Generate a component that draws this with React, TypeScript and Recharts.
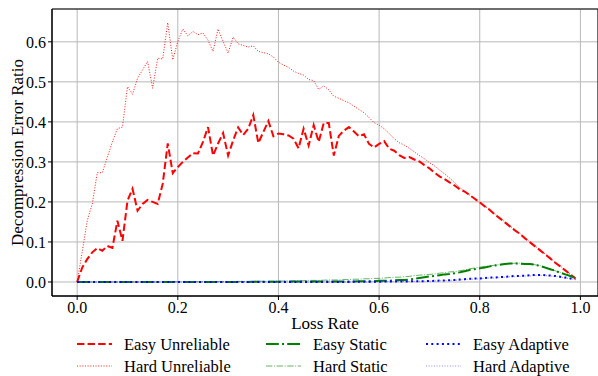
import { CartesianGrid, Line, LineChart, ReferenceArea, XAxis, YAxis } from "recharts";

const lossRate = [
  0.0, 0.01, 0.02, 0.03, 0.04, 0.05, 0.06, 0.07, 0.08, 0.09,
  0.1, 0.11, 0.12, 0.13, 0.14, 0.15, 0.16, 0.17, 0.18, 0.19,
  0.2, 0.21, 0.22, 0.23, 0.24, 0.25, 0.26, 0.27, 0.28, 0.29,
  0.3, 0.31, 0.32, 0.33, 0.34, 0.35, 0.36, 0.37, 0.38, 0.39,
  0.4, 0.41, 0.42, 0.43, 0.44, 0.45, 0.46, 0.47, 0.48, 0.49,
  0.5, 0.51, 0.52, 0.53, 0.54, 0.55, 0.56, 0.57, 0.58, 0.59,
  0.6, 0.61, 0.62, 0.63, 0.64, 0.65, 0.66, 0.67, 0.68, 0.69,
  0.7, 0.71, 0.72, 0.73, 0.74, 0.75, 0.76, 0.77, 0.78, 0.79,
  0.8, 0.81, 0.82, 0.83, 0.84, 0.85, 0.86, 0.87, 0.88, 0.89,
  0.9, 0.91, 0.92, 0.93, 0.94, 0.95, 0.96, 0.97, 0.98, 0.99,
];

const easyUnreliable = [
  0, 0.036, 0.057, 0.074, 0.085, 0.078, 0.09, 0.085, 0.153, 0.103,
  0.203, 0.233, 0.178, 0.195, 0.205, 0.2, 0.195, 0.245, 0.346, 0.272,
  0.287, 0.3, 0.311, 0.322, 0.321, 0.35, 0.387, 0.316, 0.346, 0.372,
  0.316, 0.354, 0.386, 0.367, 0.383, 0.417, 0.347, 0.375, 0.402, 0.364,
  0.371, 0.369, 0.366, 0.358, 0.334, 0.383, 0.341, 0.392, 0.35, 0.397,
  0.397, 0.316, 0.365, 0.378, 0.387, 0.376, 0.364, 0.369, 0.345, 0.336,
  0.345, 0.352, 0.333, 0.328, 0.317, 0.31, 0.312, 0.306, 0.301, 0.292,
  0.284, 0.273, 0.264, 0.257, 0.249, 0.241, 0.232, 0.226, 0.217, 0.208,
  0.199, 0.189, 0.18, 0.169, 0.159, 0.149, 0.139, 0.129, 0.12, 0.109,
  0.099, 0.089, 0.079, 0.069, 0.059, 0.048, 0.039, 0.029, 0.019, 0.009,
];

const hardUnreliable = [
  0, 0.075, 0.153, 0.195, 0.273, 0.273, 0.312, 0.35, 0.383, 0.387,
  0.488, 0.469, 0.509, 0.53, 0.551, 0.484, 0.559, 0.557, 0.648, 0.555,
  0.601, 0.632, 0.615, 0.626, 0.618, 0.622, 0.604, 0.576, 0.632, 0.601,
  0.572, 0.612, 0.595, 0.591, 0.587, 0.59, 0.576, 0.573, 0.57, 0.562,
  0.549, 0.542, 0.536, 0.527, 0.521, 0.517, 0.506, 0.503, 0.481, 0.49,
  0.48, 0.464, 0.459, 0.453, 0.448, 0.439, 0.431, 0.423, 0.411, 0.398,
  0.392, 0.383, 0.371, 0.358, 0.348, 0.342, 0.334, 0.325, 0.316, 0.308,
  0.298, 0.29, 0.28, 0.27, 0.26, 0.248, 0.236, 0.227, 0.217, 0.207,
  0.198, 0.19, 0.18, 0.17, 0.16, 0.15, 0.14, 0.13, 0.121, 0.11,
  0.1, 0.09, 0.08, 0.07, 0.06, 0.049, 0.04, 0.03, 0.019, 0.008,
];

const easyStatic = [
  0, 0, 0, 0, 0, 0, 0, 0, 0, 0,
  0, 0, 0, 0, 0, 0, 0, 0, 0, 0,
  0, 0, 0, 0, 0, 0, 0, 0, 0, 0,
  0, 0, 0, 0, 0, 0.0005, 0.0005, 0.0005, 0.0005, 0.0005,
  0.0005, 0.0005, 0.0005, 0.001, 0.001, 0.001, 0.001, 0.001, 0.001, 0.001,
  0.001, 0.001, 0.001, 0.0015, 0.0015, 0.0015, 0.002, 0.002, 0.002, 0.002,
  0.003, 0.003, 0.003, 0.004, 0.005, 0.005, 0.006, 0.008, 0.01, 0.012,
  0.014, 0.015, 0.017, 0.019, 0.02, 0.022, 0.024, 0.027, 0.03, 0.032,
  0.034, 0.036, 0.039, 0.041, 0.043, 0.045, 0.046, 0.046, 0.046, 0.045,
  0.045, 0.043, 0.04, 0.036, 0.032, 0.028, 0.023, 0.019, 0.015, 0.011,
];

const hardStatic = [
  0, 0, 0, 0, 0, 0, 0, 0, 0, 0,
  0, 0, 0, 0, 0, 0, 0, 0, 0, 0.0005,
  0.0005, 0.0005, 0.0005, 0.0005, 0.0005, 0.001, 0.001, 0.001, 0.001, 0.001,
  0.001, 0.001, 0.0015, 0.0015, 0.0015, 0.0015, 0.002, 0.002, 0.002, 0.002,
  0.0025, 0.0025, 0.003, 0.003, 0.003, 0.0035, 0.004, 0.004, 0.004, 0.0045,
  0.005, 0.005, 0.005, 0.006, 0.006, 0.007, 0.007, 0.008, 0.008, 0.009,
  0.009, 0.01, 0.011, 0.012, 0.012, 0.013, 0.014, 0.016, 0.017, 0.018,
  0.019, 0.02, 0.022, 0.023, 0.025, 0.026, 0.028, 0.03, 0.033, 0.035,
  0.037, 0.039, 0.04, 0.042, 0.044, 0.045, 0.046, 0.047, 0.047, 0.046,
  0.045, 0.043, 0.041, 0.037, 0.033, 0.028, 0.024, 0.019, 0.015, 0.011,
];

const easyAdaptive = [
  0, 0, 0, 0, 0, 0, 0, 0, 0, 0,
  0, 0, 0, 0, 0, 0, 0, 0, 0, 0,
  0, 0, 0, 0, 0, 0, 0, 0, 0, 0,
  0, 0, 0, 0, 0, 0, 0, 0, 0, 0,
  0, 0, 0, 0, 0, 0, 0, 0, 0, 0,
  0, 0, 0, 0, 0, 0.0005, 0.0005, 0.0005, 0.0005, 0.0005,
  0.0005, 0.001, 0.001, 0.001, 0.001, 0.0015, 0.0015, 0.002, 0.002, 0.002,
  0.0025, 0.003, 0.0035, 0.004, 0.0045, 0.005, 0.006, 0.007, 0.008, 0.0085,
  0.009, 0.01, 0.011, 0.011, 0.012, 0.013, 0.014, 0.015, 0.015, 0.016,
  0.017, 0.0175, 0.0175, 0.017, 0.016, 0.015, 0.013, 0.011, 0.009, 0.007,
];

const hardAdaptive = [
  0, 0, 0, 0, 0, 0, 0, 0, 0, 0,
  0, 0, 0, 0, 0, 0, 0, 0, 0, 0,
  0, 0, 0, 0, 0, 0, 0, 0, 0, 0,
  0, 0, 0, 0, 0, 0, 0, 0, 0, 0,
  0, 0, 0, 0, 0, 0, 0, 0, 0, 0,
  0, 0, 0, 0, 0, 0, 0, 0, 0.0005, 0.0005,
  0.0005, 0.0005, 0.001, 0.001, 0.001, 0.001, 0.0015, 0.0015, 0.002, 0.002,
  0.002, 0.0025, 0.003, 0.0035, 0.004, 0.0045, 0.005, 0.006, 0.007, 0.0075,
  0.008, 0.009, 0.01, 0.01, 0.011, 0.012, 0.013, 0.013, 0.014, 0.015,
  0.015, 0.016, 0.016, 0.016, 0.015, 0.014, 0.012, 0.01, 0.008, 0.006,
];

const xTicks = [0, 0.2, 0.4, 0.6, 0.8, 1.0];
const yTicks = [0, 0.1, 0.2, 0.3, 0.4, 0.5, 0.6];

const data = lossRate.map((x, i) => ({
  x,
  eu: easyUnreliable[i],
  hu: hardUnreliable[i],
  es: easyStatic[i],
  hs: hardStatic[i],
  ea: easyAdaptive[i],
  ha: hardAdaptive[i],
}));

const FONT = "'Liberation Serif', 'Times New Roman', serif";

const series = [
  { key: "eu", name: "Easy Unreliable", color: "#ff0000", width: 2, dash: "7.4 3.2", opacity: 1 },
  { key: "hu", name: "Hard Unreliable", color: "#ff0000", width: 1, dash: "1 1.65", opacity: 0.9 },
  { key: "es", name: "Easy Static", color: "#008000", width: 2, dash: "12.8 3.2 2 3.2", opacity: 1 },
  { key: "hs", name: "Hard Static", color: "#008000", width: 1, dash: "6.4 1.6 1 1.6", opacity: 0.6 },
  { key: "ea", name: "Easy Adaptive", color: "#0000ff", width: 2, dash: "2 3.3", opacity: 1 },
  { key: "ha", name: "Hard Adaptive", color: "#0000ff", width: 1, dash: "1 1.65", opacity: 0.45 },
];

// legend: 3 columns, easy on top row, hard below
const legendCols = [77, 266, 426];
const legendRows = [344, 366];

const YLabel = ({ viewBox }: any) => {
  const cy = viewBox.y + viewBox.height / 2;
  return (
    <text
      x={17}
      y={cy}
      transform={`rotate(-90, 17, ${cy})`}
      textAnchor="middle"
      dominantBaseline="central"
      fontFamily={FONT}
      fontSize={17}
      fill="#000"
    >
      Decompression Error Ratio
    </text>
  );
};

export default function App() {
  const tickStyle = { fontFamily: FONT, fontSize: 16, fill: "#000" };
  return (
    <div style={{ position: "absolute", left: 0, top: 0, width: 598, height: 376, overflow: "hidden", background: "#fff" }}>
      <LineChart width={598} height={376} data={data} margin={{ top: 9, right: 0, left: 0, bottom: 46 }}>
        <CartesianGrid stroke="#b8b8b8" strokeWidth={1} />
        <XAxis
          type="number"
          dataKey="x"
          domain={[-0.05, 1.035]}
          ticks={xTicks}
          allowDataOverflow
          tickFormatter={(v: number) => v.toFixed(1)}
          tick={tickStyle}
          tickSize={4}
          tickMargin={2}
          height={34}
          stroke="#000"
          label={{ value: "Loss Rate", position: "insideBottom", offset: 1, style: { fontFamily: FONT, fontSize: 17, fill: "#000" } }}
        />
        <YAxis
          type="number"
          domain={[-0.035, 0.682]}
          ticks={yTicks}
          allowDataOverflow
          tickFormatter={(v: number) => v.toFixed(1)}
          tick={tickStyle}
          tickSize={4}
          tickMargin={2}
          width={52}
          stroke="#000"
          label={{ content: YLabel }}
        />
        <ReferenceArea x1={-0.05} x2={1.035} y1={-0.035} y2={0.682} fill="none" stroke="#000" strokeWidth={1} />
        {series.map((s) => (
          <Line
            key={s.key}
            type="linear"
            dataKey={s.key}
            stroke={s.color}
            strokeWidth={s.width}
            strokeDasharray={s.dash}
            strokeOpacity={s.opacity}
            dot={false}
            isAnimationActive={false}
          />
        ))}
      </LineChart>
      <svg width={598} height={376} style={{ position: "absolute", left: 0, top: 0, pointerEvents: "none" }}>
        {series.map((s, i) => {
          const x = legendCols[Math.floor(i / 2)];
          const y = legendRows[i % 2];
          return (
            <g key={s.key}>
              <line
                x1={x}
                x2={x + 35}
                y1={y}
                y2={y}
                stroke={s.color}
                strokeWidth={s.width}
                strokeDasharray={s.dash}
                strokeOpacity={s.opacity}
              />
              <text x={x + 47} y={y} dominantBaseline="central" fontFamily={FONT} fontSize={16.5} fill="#000">
                {s.name}
              </text>
            </g>
          );
        })}
      </svg>
    </div>
  );
}
